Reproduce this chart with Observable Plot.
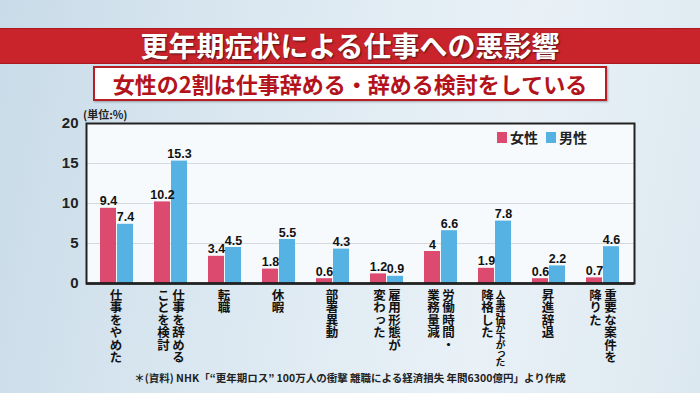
<!DOCTYPE html>
<html><head><meta charset="utf-8">
<script src="https://cdn.jsdelivr.net/npm/d3@7"></script>
<script src="https://cdn.jsdelivr.net/npm/@observablehq/plot@0.6"></script>
<style>
html,body{margin:0;padding:0;}
body{width:700px;height:393px;position:relative;overflow:hidden;
 background:linear-gradient(100deg,#c9dbe8 0%,#dbe8f1 35%,#e9f1f7 70%,#dce8f0 100%);
 font-family:"Noto Sans CJK JP",sans-serif;}
#band{position:absolute;left:0;top:28px;width:700px;height:34px;background:#c9242b;
 border-top:1px solid #a81a20;border-bottom:1px solid #a81a20;}
#title{position:absolute;left:0;top:28px;width:700px;height:34px;line-height:34px;text-align:center;
 color:#fff;font-size:28px;font-weight:700;text-shadow:1px 1px 2px rgba(0,0,0,0.6);}
#sub{position:absolute;left:93px;top:66px;width:510px;height:31px;background:#fff;border:2px solid #b51f25;
 box-shadow:1px 1px 2px rgba(0,0,0,0.3);text-align:center;line-height:31px;color:#b3141c;font-size:22px;font-weight:700;}
#chart{position:absolute;left:0;top:105px;}
#unit{position:absolute;left:83px;top:106px;font-size:11px;font-weight:700;color:#222;}
#legend{position:absolute;left:497px;top:127px;font-size:14px;font-weight:700;color:#222;display:flex;align-items:center;}
#legend span.sw{display:inline-block;width:10px;height:11px;margin-right:3px;}
#caption{position:absolute;left:0;top:370px;width:700px;text-align:center;font-size:10.5px;font-weight:700;color:#222;}
</style></head>
<body>
<div id="band"></div>
<div id="title"></div>
<div id="sub"></div>
<div id="chart"></div>
<div id="unit"></div>
<div id="legend"></div>
<div id="caption"></div>
<script>
const titleText = "更年期症状による仕事への悪影響";
const subtitleText = "女性の2割は仕事辞める・辞める検討をしている";
const unitText = "(単位:%)";
const captionText = "＊(資料) NHK「“更年期ロス” 100万人の衝撃  離職による経済損失 年間6300億円」より作成";
const seriesNames = ["女性", "男性"];
const seriesColors = ["#dc4a70", "#56b2e2"];
const labelCol1 = ["仕事をやめた","仕事を辞める","転職","休暇","部署異動","雇用形態が","労働時間・","人事評価が下がった","昇進辞退","重要な案件を"];
const labelCol2 = ["","ことを検討","","","","変わった","業務量減","降格した","","降りた"];
const women = [9.4,10.2,3.4,1.8,0.6,1.2,4,1.9,0.6,0.7];
const men = [7.4,15.3,4.5,5.5,4.3,0.9,6.6,7.8,2.2,4.6];
const yTicks = [0,5,10,15,20];

const categories = labelCol1.map((c,i)=>c+labelCol2[i]);
const rows = categories.map((c,i)=>({cat:c, col1:labelCol1[i], col2:labelCol2[i], w:women[i], m:men[i]}));

document.getElementById("title").textContent = titleText;
document.getElementById("sub").textContent = subtitleText;
document.getElementById("unit").textContent = unitText;
document.getElementById("caption").textContent = captionText;
const lg = document.getElementById("legend");
seriesNames.forEach((n,i)=>{
  const sw=document.createElement("span");sw.className="sw";sw.style.background=seriesColors[i];
  const t=document.createElement("span");t.textContent=n;t.style.marginRight="8px";
  lg.appendChild(sw);lg.appendChild(t);
});

const half = 17;
const numFont = "'Liberation Sans', Arial, sans-serif";
const jpFont = "'Noto Sans CJK JP', sans-serif";
const single = rows.filter(d=>d.col2==="");
const dbl = rows.filter(d=>d.col2!=="");
const dblNormal = dbl.filter(d=>d.col1.length<8);
const dblSmall = dbl.filter(d=>d.col1.length>=8);

const chart = Plot.plot({
  width:700, height:265,
  marginTop:18, marginBottom:87, marginLeft:86, marginRight:66,
  x:{domain:categories, paddingInner:0.38, paddingOuter:0.19, axis:null},
  y:{domain:[0,20], axis:null},
  style:{background:"transparent", overflow:"visible"},
  marks:[
    Plot.frame({fill:"#f7fafc", stroke:"none"}),
    Plot.ruleY([5,10,15], {stroke:"#d3d9de", strokeWidth:1}),
    Plot.barY(rows, {x:"cat", y:"w", fill:seriesColors[0], insetRight:half, insetLeft:0}),
    Plot.barY(rows, {x:"cat", y:"m", fill:seriesColors[1], insetLeft:half, insetRight:0}),
    Plot.text(rows, {x:"cat", y:"w", text:d=>String(d.w), dx:-half/2, dy:-3, lineAnchor:"bottom", fontSize:12.5, fontWeight:"bold", fill:"#111", fontFamily:numFont}),
    Plot.text(rows, {x:"cat", y:"m", text:d=>String(d.m), dx:half/2, dy:-3, lineAnchor:"bottom", fontSize:12.5, fontWeight:"bold", fill:"#111", fontFamily:numFont}),
    Plot.ruleY([0], {stroke:"#111", strokeWidth:2.5}),
    Plot.frame({stroke:"#222", strokeWidth:2}),
    Plot.text(yTicks, {y:d=>d, text:d=>String(d), frameAnchor:"left", dx:-8, textAnchor:"end", fontSize:15, fontWeight:"bold", fill:"#222", fontFamily:numFont}),
    Plot.text(single, {x:"cat", text:"col1", frameAnchor:"bottom", dy:5, dx:-1, textAnchor:"start", lineAnchor:"bottom", fontSize:12.5, fontWeight:"bold", fill:"#111", fontFamily:jpFont}),
    Plot.text(dblNormal, {x:"cat", text:"col1", frameAnchor:"bottom", dy:5, dx:7.5, textAnchor:"start", lineAnchor:"bottom", fontSize:12.5, fontWeight:"bold", fill:"#111", fontFamily:jpFont}),
    Plot.text(dbl, {x:"cat", text:"col2", frameAnchor:"bottom", dy:5, dx:-7.5, textAnchor:"start", lineAnchor:"bottom", fontSize:12.5, fontWeight:"bold", fill:"#111", fontFamily:jpFont}),
    Plot.text(dblSmall, {x:"cat", text:"col1", frameAnchor:"bottom", dy:6, dx:5.5, textAnchor:"start", lineAnchor:"bottom", fontSize:10, fontWeight:"bold", fill:"#111", fontFamily:jpFont})
  ]
});
document.getElementById("chart").appendChild(chart);
const vertical = new Set(labelCol1.concat(labelCol2).filter(s=>s));
chart.querySelectorAll("text").forEach(t=>{
  if (vertical.has(t.textContent)) {
    t.setAttribute("writing-mode","vertical-rl");
    t.style.writingMode = "vertical-rl";
    if (t.textContent.length >= 8) t.style.letterSpacing = "-1.5px";
  }
});
</script>
</body></html>
